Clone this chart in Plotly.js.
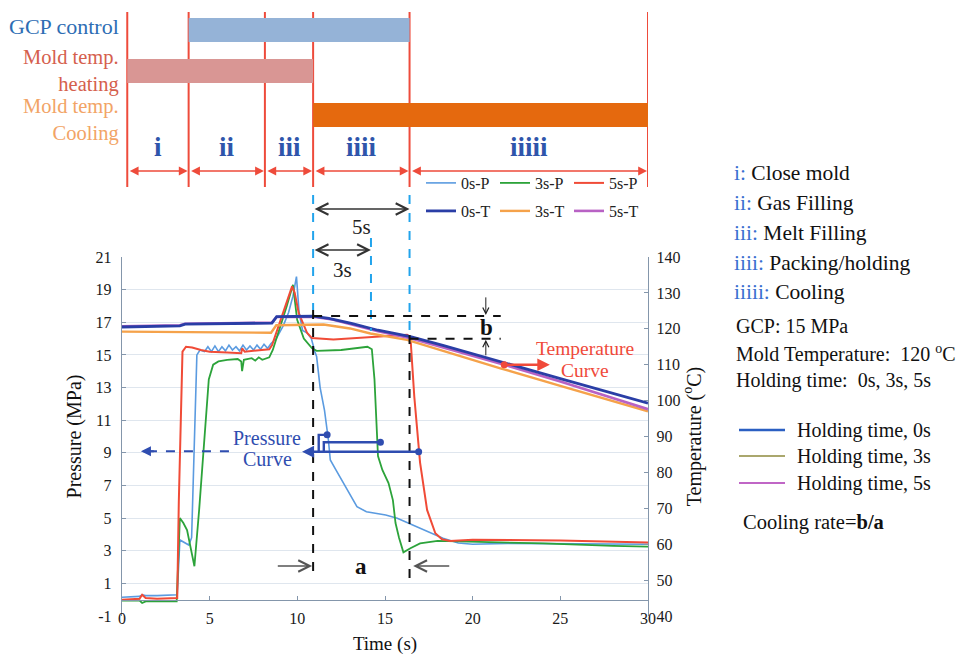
<!DOCTYPE html>
<html>
<head>
<meta charset="utf-8">
<script src="https://cdn.plot.ly/plotly-3.0.1.min.js"></script>
<style>
  html, body { margin: 0; padding: 0; background: #ffffff; }
  #chart { width: 969px; height: 655px; }
</style>
</head>
<body>
<div id="chart"></div>
<script>
// ---- Cavity pressure (MPa) for holding times 0 s, 3 s and 5 s ----
const t0P = [0, 1.0, 1.15, 1.35, 2.0, 3.15, 3.3, 3.55, 3.81, 3.97, 4.12, 4.27, 4.45, 4.7, 4.9, 5.1, 5.3, 5.5, 5.7, 5.9, 6.1, 6.3, 6.5, 6.7, 6.9, 7.1, 7.3, 7.5, 7.7, 7.9, 8.1, 8.3, 8.5, 8.8, 9.2, 9.5, 9.75, 9.95, 10.1, 10.3, 10.55, 10.8, 11.0, 11.1, 11.3, 11.55, 11.77, 11.88, 12.2, 12.74, 13.4, 13.94, 15.04, 15.7, 16.56, 17.44, 18.31, 19.18, 20, 22, 25, 28, 30];
const p0  = [0.15, 0.2, 0.3, 0.25, 0.25, 0.3, 3.66, 3.5, 3.35, 3.8, 9.5, 15.0, 15.3, 15.2, 15.5, 15.2, 15.55, 15.2, 15.5, 15.25, 15.6, 15.3, 15.5, 15.25, 15.6, 15.3, 15.55, 15.3, 15.6, 15.35, 15.65, 15.4, 15.7, 16.0, 16.8, 17.6, 18.6, 19.8, 17.6, 16.5, 16.35, 16.0, 15.2, 14.9, 13.0, 11.6, 9.8, 8.56, 7.95, 6.93, 5.7, 5.39, 5.19, 4.99, 4.58, 4.17, 3.76, 3.47, 3.4, 3.45, 3.42, 3.38, 3.4];

const t3P = [0, 1.0, 1.15, 1.35, 2.0, 3.12, 3.3, 3.5, 3.71, 3.9, 4.13, 4.4, 4.7, 4.95, 5.2, 5.5, 6.0, 6.6, 6.8, 6.85, 6.95, 7.4, 7.6, 7.8, 8.0, 8.4, 8.6, 9.0, 9.4, 9.75, 9.99, 10.37, 10.84, 11.1, 12.5, 14.0, 14.25, 14.4, 14.6, 14.85, 15.2, 15.45, 15.6, 15.8, 16.05, 16.45, 17.0, 18.0, 20, 24, 28, 30];
const p3  = [-0.05, -0.05, -0.2, -0.1, -0.1, -0.1, 5.0, 4.7, 4.27, 3.3, 2.05, 5.5, 10.0, 13.5, 14.4, 14.6, 14.7, 14.75, 14.6, 14.0, 14.7, 14.8, 14.65, 14.85, 14.7, 14.85, 15.3, 16.6, 18.0, 19.3, 17.15, 16.0, 15.4, 15.25, 15.3, 15.5, 15.35, 13.5, 8.8, 7.95, 7.15, 6.1, 4.7, 3.8, 2.9, 3.15, 3.45, 3.6, 3.55, 3.45, 3.3, 3.25];

const t5P = [0, 1.0, 1.15, 1.35, 2.0, 3.15, 3.24, 3.45, 3.65, 4.0, 4.5, 5.0, 6.0, 6.8, 6.85, 7.0, 7.5, 8.0, 8.4, 8.56, 9.0, 9.4, 9.7, 9.85, 10.08, 10.56, 10.84, 12.06, 14.2, 16.26, 16.45, 16.67, 17.0, 17.4, 17.87, 18.25, 18.7, 20, 25, 30];
const p5  = [0.0, 0.05, 0.3, 0.1, 0.05, 0.1, 6.0, 15.2, 15.5, 15.45, 15.3, 15.2, 15.15, 15.1, 15.4, 15.2, 15.25, 15.3, 15.35, 15.6, 17.0, 18.3, 19.2, 18.8, 17.56, 16.34, 16.03, 15.95, 16.1, 16.23, 16.1, 12.45, 8.4, 5.5, 4.07, 3.7, 3.6, 3.68, 3.62, 3.5];

// ---- Mold temperature (°C) for the same holding times ----
const t0T = [0, 2, 3.3, 3.6, 6, 8.4, 8.55, 8.82, 10.9, 11.8, 13.08, 14.6, 16.45, 18.3, 21.8, 25, 30];
const T0  = [120.5, 120.7, 120.8, 121.3, 121.4, 121.5, 121.6, 123.4, 123.5, 122.9, 121.5, 119.6, 117.8, 115.4, 110.5, 106.1, 99.3];

const t3T = [0, 3, 6, 8.4, 8.5, 8.8, 11.5, 13.0, 14.17, 16.26, 18.73, 21.58, 25, 30];
const T3  = [119.2, 119.1, 118.9, 118.8, 118.9, 121.0, 121.2, 120.1, 118.7, 116.9, 113.2, 109.0, 104.1, 97.0];

const t5T = [0, 2, 3.3, 3.6, 6, 8.4, 8.55, 8.82, 11.0, 12.0, 13.0, 14.6, 16.45, 18.3, 21.8, 25, 30];
const T5  = [120.7, 120.9, 121.0, 121.4, 121.5, 121.6, 121.7, 123.3, 123.3, 122.6, 121.4, 119.3, 117.4, 114.9, 110.0, 105.3, 97.6];

// ---- Axes ----
const timeRange = [0, 30];
const timeTicks = [0, 5, 10, 15, 20, 25, 30];
const pressureRange = [-1, 21];
const pressureTicks = [-1, 1, 3, 5, 7, 9, 11, 13, 15, 17, 19, 21];
const pressureTickText = ['-1', '1', '3', '5', '7', '9', '11', '13', '15', '17', '19', '21'];
const tempRange = [40, 140];
const tempTicks = [40, 50, 60, 70, 80, 90, 100, 110, 120, 130, 140];

// ---- Process phases (s) ----
const phaseBounds = [0.3, 3.8, 8.15, 10.9, 16.4, 30];
const phaseNames = ['i', 'ii', 'iii', 'iiii', 'iiiii'];
const phaseDescriptions = ['Close mold', 'Gas Filling', 'Melt Filling', 'Packing/holding', 'Cooling'];
const gcpWindow = [3.8, 16.4];
const heatingWindow = [0.3, 10.9];
const coolingWindow = [10.9, 30];
const holdStart = 10.9;
const hold3End = 14.2;
const hold5End = 16.4;
// temperatures that define the cooling-rate step b
const bTop = 123.6;
const bBottom = 117.2;

// ---- Page geometry helpers ----
const W = 969, H = 655;
const M = { l: 122, r: 321, t: 257, b: 39 };
const plotW = W - M.l - M.r;
const plotH = H - M.t - M.b;
const py = v => (H - M.b - v) / plotH;   // pixel row -> paper y
const px = v => (v - M.l) / plotW;       // pixel column -> paper x

const SERIF = '"Liberation Serif", "Times New Roman", serif';
const AXIS_COLOR = '#8496ab';

const C = {
  p0: '#5b9be0', p3: '#2ca33a', p5: '#f04b37',
  t0: '#2a3ea6', t3: '#f5a24a', t5: '#b862c4',
  phase: '#ee4b3b', gcp: '#95b3d7', heat: '#d99694', cool: '#e5690e',
  blueText: '#2e6db4', roman: '#2f55ab', dashBlue: '#22a4ec', curveBlue: '#2f4db0', curveRed: '#f04a3a'
};

const traces = [
  { x: t0P, y: p0, name: '0s-P', mode: 'lines', line: { color: C.p0, width: 1.6 }, legend: 'legend', legendrank: 1 },
  { x: t3P, y: p3, name: '3s-P', mode: 'lines', line: { color: C.p3, width: 1.8 }, legend: 'legend', legendrank: 2 },
  { x: t5P, y: p5, name: '5s-P', mode: 'lines', line: { color: C.p5, width: 2.0 }, legend: 'legend', legendrank: 3 },
  { x: t3T, y: T3, name: '3s-T', mode: 'lines', yaxis: 'y2', line: { color: C.t3, width: 2.4 }, legend: 'legend2', legendrank: 2 },
  { x: t5T, y: T5, name: '5s-T', mode: 'lines', yaxis: 'y2', line: { color: C.t5, width: 2.6 }, legend: 'legend2', legendrank: 3 },
  { x: t0T, y: T0, name: '0s-T', mode: 'lines', yaxis: 'y2', line: { color: C.t0, width: 2.8 }, legend: 'legend2', legendrank: 1 }
];

const shapes = [];
const annotations = [];

// plain text label helper (always centred on the given point unless told otherwise)
const label = (opts) => annotations.push(Object.assign({
  showarrow: false, xanchor: 'center', yanchor: 'middle'
}, opts));

// phase boundary lines
phaseBounds.forEach(b => shapes.push({
  type: 'line', xref: 'x', yref: 'paper', x0: b, x1: b, y0: py(12), y1: py(187),
  line: { color: C.phase, width: 2 }
}));
// control bars
shapes.push({ type: 'rect', xref: 'x', yref: 'paper', x0: gcpWindow[0], x1: gcpWindow[1], y0: py(42), y1: py(18), fillcolor: C.gcp, line: { width: 0 } });
shapes.push({ type: 'rect', xref: 'x', yref: 'paper', x0: heatingWindow[0], x1: heatingWindow[1], y0: py(83), y1: py(59), fillcolor: C.heat, line: { width: 0 } });
shapes.push({ type: 'rect', xref: 'x', yref: 'paper', x0: coolingWindow[0], x1: coolingWindow[1], y0: py(127), y1: py(103), fillcolor: C.cool, line: { width: 0 } });

// phase arrows and numerals
for (let i = 0; i < phaseNames.length; i++) {
  annotations.push({
    xref: 'x', yref: 'paper', x: phaseBounds[i + 1], y: py(171), axref: 'x', ayref: 'pixel',
    ax: phaseBounds[i], ay: 0, text: '', showarrow: true, arrowside: 'end+start',
    arrowhead: 2, arrowsize: 1.1, arrowwidth: 1.6, arrowcolor: C.phase, standoff: 1, startstandoff: 1
  });
  label({
    xref: 'x', yref: 'paper', x: (phaseBounds[i] + phaseBounds[i + 1]) / 2, y: py(147),
    text: '<b>' + phaseNames[i] + '</b>', font: { family: SERIF, size: 27, color: C.roman }
  });
}

// row labels of the control diagram
const rowLabel = (text, row, color, size) => label({
  xref: 'paper', yref: 'paper', x: px(121), y: py(row), xanchor: 'right', align: 'right',
  text: text, font: { family: SERIF, size: size, color: color }
});
rowLabel('GCP control', 27, C.blueText, 22);
rowLabel('Mold temp.<br>heating', 71, '#d5604d', 20.5);
rowLabel('Mold temp.<br>Cooling', 120, '#f2a466', 20.5);

// holding-time markers
const vdash = (x, top, bottom, color) => shapes.push({
  type: 'line', xref: 'x', yref: 'paper', x0: x, x1: x, y0: py(top), y1: py(bottom),
  line: { color: color, width: 2, dash: 'dash' }
});
vdash(holdStart, 195, 310, C.dashBlue);
vdash(hold3End, 238, 331, C.dashBlue);
vdash(hold5End, 195, 335, C.dashBlue);
vdash(holdStart, 310, 579, '#111111');
vdash(hold5End, 335, 579, '#111111');

const span = (x0, x1, row) => annotations.push({
  xref: 'x', yref: 'paper', x: x1, y: py(row), axref: 'x', ayref: 'pixel', ax: x0, ay: 0,
  text: '', showarrow: true, arrowside: 'end+start', arrowhead: 5, arrowsize: 1.6,
  arrowwidth: 1.4, arrowcolor: '#333333', standoff: 0, startstandoff: 0
});
span(holdStart, hold5End, 209);
span(holdStart, hold3End, 250);
label({ xref: 'x', yref: 'paper', x: (holdStart + hold5End) / 2, y: py(227), text: '5s', font: { family: SERIF, size: 21, color: '#222' } });
label({ xref: 'x', yref: 'paper', x: (holdStart + hold3End) / 2, y: py(270), text: '3s', font: { family: SERIF, size: 21, color: '#222' } });

// cooling rate b / a
const bEnd = 21.6;
shapes.push({ type: 'line', xref: 'x', yref: 'y2', x0: holdStart, x1: bEnd, y0: bTop, y1: bTop, line: { color: '#111', width: 2, dash: 'dash' } });
shapes.push({ type: 'line', xref: 'x', yref: 'y2', x0: hold5End, x1: bEnd, y0: bBottom, y1: bBottom, line: { color: '#111', width: 2, dash: 'dash' } });
label({ xref: 'x', yref: 'y2', x: 20.8, y: (bTop + bBottom) / 2, text: '<b>b</b>', font: { family: SERIF, size: 23, color: '#111' } });
annotations.push({ xref: 'x', yref: 'y2', x: 20.75, y: bTop, ax: 0, ay: -20, text: '', showarrow: true, arrowhead: 5, arrowsize: 1.2, arrowwidth: 1, arrowcolor: '#222', standoff: 1 });
annotations.push({ xref: 'x', yref: 'y2', x: 20.75, y: bBottom, ax: 0, ay: 18, text: '', showarrow: true, arrowhead: 5, arrowsize: 1.2, arrowwidth: 1, arrowcolor: '#222', standoff: 1 });

label({ xref: 'x', yref: 'paper', x: (holdStart + hold5End) / 2, y: py(566), text: '<b>a</b>', font: { family: SERIF, size: 23, color: '#111' } });
annotations.push({ xref: 'x', yref: 'paper', x: holdStart, y: py(566), axref: 'x', ayref: 'pixel', ax: 8.8, ay: 0, text: '', showarrow: true, arrowhead: 5, arrowsize: 1.6, arrowwidth: 1.4, arrowcolor: '#555', standoff: 1 });
annotations.push({ xref: 'x', yref: 'paper', x: 16.55, y: py(566), axref: 'x', ayref: 'pixel', ax: 18.75, ay: 0, text: '', showarrow: true, arrowhead: 5, arrowsize: 1.6, arrowwidth: 1.4, arrowcolor: '#555', standoff: 1 });

// temperature curve callout
const dot = (x, y, yref, color) => shapes.push({
  type: 'circle', xref: 'x', yref: yref, xsizemode: 'pixel', ysizemode: 'pixel',
  xanchor: x, yanchor: y, x0: -3.5, x1: 3.5, y0: -3.5, y1: 3.5, fillcolor: color, line: { width: 0 }
});
dot(21.8, 110, 'y2', C.curveRed);
annotations.push({ xref: 'x', yref: 'y2', x: 24.4, y: 110, axref: 'x', ayref: 'y2', ax: 21.8, ay: 110, text: '', showarrow: true, arrowhead: 2, arrowsize: 1, arrowwidth: 2.5, arrowcolor: C.curveRed, standoff: 0 });
label({ xref: 'paper', yref: 'paper', x: px(585), y: py(348), text: 'Temperature', font: { family: SERIF, size: 19.5, color: C.curveRed } });
label({ xref: 'paper', yref: 'paper', x: px(585), y: py(370), text: 'Curve', font: { family: SERIF, size: 19.5, color: C.curveRed } });

// pressure curve callout
shapes.push({ type: 'path', xref: 'x', yref: 'y', path: 'M 11.7 10.1 L 11.22 10.1 L 11.22 9.07', line: { color: C.curveBlue, width: 2.4 } });
shapes.push({ type: 'path', xref: 'x', yref: 'y', path: 'M 14.74 9.65 L 11.51 9.65 L 11.51 9.07', line: { color: C.curveBlue, width: 2.4 } });
dot(11.7, 10.1, 'y', C.curveBlue);
dot(14.74, 9.65, 'y', C.curveBlue);
dot(16.92, 9.07, 'y', C.curveBlue);
annotations.push({ xref: 'x', yref: 'y', x: 10.27, y: 9.07, axref: 'x', ayref: 'y', ax: 16.92, ay: 9.07, text: '', showarrow: true, arrowhead: 2, arrowsize: 1, arrowwidth: 2.4, arrowcolor: C.curveBlue, standoff: 0 });
shapes.push({ type: 'line', xref: 'x', yref: 'y', x0: 6.1, x1: 1.5, y0: 9.1, y1: 9.1, line: { color: C.curveBlue, width: 2, dash: 'dash' } });
annotations.push({ xref: 'x', yref: 'y', x: 1.08, y: 9.1, axref: 'x', ayref: 'y', ax: 1.9, ay: 9.1, text: '', showarrow: true, arrowhead: 2, arrowsize: 1, arrowwidth: 2, arrowcolor: C.curveBlue, standoff: 0 });
label({ xref: 'paper', yref: 'paper', x: px(267), y: py(438), text: 'Pressure', font: { family: SERIF, size: 20, color: C.curveBlue } });
label({ xref: 'paper', yref: 'paper', x: px(267), y: py(459), text: 'Curve', font: { family: SERIF, size: 20, color: C.curveBlue } });

// phase key and process conditions
const note = (text, row, col, size) => label({
  xref: 'paper', yref: 'paper', x: px(col), y: py(row), xanchor: 'left',
  text: text, font: { family: SERIF, size: size, color: '#111' }
});
const keyRows = [173, 203, 233, 263, 292];
phaseNames.forEach((n, i) => note('<span style="color:#3a6fd0">' + n + ':</span> ' + phaseDescriptions[i], keyRows[i], 732, 21.5));
note('GCP: 15 MPa', 326, 734, 20);
note('Mold Temperature:  120 <sup>o</sup>C', 353, 734, 20);
note('Holding time:  0s, 3s, 5s', 380, 734, 20);

const holdKey = [
  { label: 'Holding time, 0s', color: '#2b5fc2', width: 2.6, row: 430 },
  { label: 'Holding time, 3s', color: '#8e8a3c', width: 1.6, row: 456 },
  { label: 'Holding time, 5s', color: '#c066c6', width: 2.0, row: 483 }
];
holdKey.forEach(k => {
  shapes.push({ type: 'line', xref: 'paper', yref: 'paper', x0: px(739), x1: px(785), y0: py(k.row), y1: py(k.row), line: { color: k.color, width: k.width } });
  note(k.label, k.row, 795, 20);
});
note('Cooling rate=<b>b/a</b>', 522, 741, 20.5);

const tickFont = { family: SERIF, size: 16, color: '#1a1a1a' };
const legendBase = {
  orientation: 'h', xanchor: 'left', yanchor: 'middle', bgcolor: 'rgba(0,0,0,0)',
  font: { family: SERIF, size: 16, color: '#222' }, entrywidth: 29, entrywidthmode: 'pixels', itemwidth: 30
};

const layout = {
  width: W, height: H,
  margin: M,
  paper_bgcolor: '#ffffff', plot_bgcolor: '#ffffff',
  showlegend: true,
  legend: Object.assign({}, legendBase, { x: px(421), y: py(183) }),
  legend2: Object.assign({}, legendBase, { x: px(421), y: py(211) }),
  xaxis: {
    range: timeRange, tickvals: timeTicks, ticktext: timeTicks.map(String),
    anchor: 'free', position: (0 - pressureRange[0]) / (pressureRange[1] - pressureRange[0]),
    showline: true, linecolor: AXIS_COLOR, linewidth: 1.3, ticks: 'inside', ticklen: 4, tickcolor: AXIS_COLOR,
    showgrid: false, zeroline: false, tickfont: tickFont, ticklabelstandoff: 4, automargin: false,
    title: { text: 'Time (s)', font: { family: SERIF, size: 19, color: '#111' }, standoff: 12 }
  },
  yaxis: {
    range: pressureRange, tickvals: pressureTicks, ticktext: pressureTickText,
    showline: true, linecolor: AXIS_COLOR, linewidth: 1.3, ticks: 'inside', ticklen: 4, tickcolor: AXIS_COLOR,
    showgrid: true, gridcolor: '#dfe6ee', gridwidth: 1, zeroline: false, tickfont: tickFont,
    ticklabelstandoff: 6, automargin: false,
    title: { text: 'Pressure (MPa)', font: { family: SERIF, size: 20, color: '#111' }, standoff: 8 }
  },
  yaxis2: {
    range: tempRange, tickvals: tempTicks, overlaying: 'y', side: 'right',
    showline: true, linecolor: AXIS_COLOR, linewidth: 1.3, ticks: 'inside', ticklen: 4, tickcolor: AXIS_COLOR,
    showgrid: false, zeroline: false, tickfont: tickFont, ticklabelstandoff: 4, automargin: false,
    title: { text: 'Temperature (<sup>o</sup>C)', font: { family: SERIF, size: 20, color: '#111' }, standoff: 6 }
  },
  shapes: shapes,
  annotations: annotations
};

Plotly.newPlot('chart', traces, layout, { displayModeBar: false, staticPlot: true });
</script>
</body>
</html>
